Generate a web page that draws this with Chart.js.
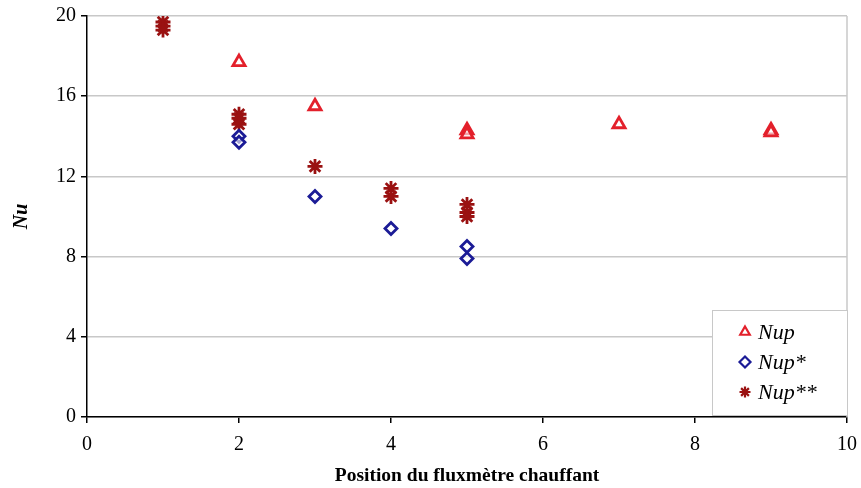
<!DOCTYPE html>
<html>
<head>
<meta charset="utf-8">
<script src="https://cdn.jsdelivr.net/npm/chart.js@4.4.0/dist/chart.umd.min.js"></script>
<style>
html,body{margin:0;padding:0;background:#fff;}
#wrap{width:861px;height:488px;}
</style>
</head>
<body>
<div id="wrap"><canvas id="c" width="861" height="488"></canvas></div>
<script>
const nupX = [2, 3, 5, 5, 7, 9, 9];
const nupY = [17.7, 15.5, 14.3, 14.1, 14.6, 14.3, 14.2];
const nupStarX = [2, 2, 3, 4, 5, 5];
const nupStarY = [14.0, 13.7, 11.0, 9.4, 8.5, 7.9];
const nupStar2X = [1, 1, 1, 2, 2, 2, 3, 4, 4, 5, 5, 5];
const nupStar2Y = [19.7, 19.5, 19.3, 15.1, 14.9, 14.6, 12.5, 11.4, 11.0, 10.6, 10.2, 10.0];
const xTicks = [0, 2, 4, 6, 8, 10];
const yTicks = [0, 4, 8, 12, 16, 20];
const seriesNames = ['Nup', 'Nup*', 'Nup**'];

const toPts = (xs, ys) => xs.map((x, i) => ({x: x, y: ys[i]}));
const serif = "'Liberation Serif', 'DejaVu Serif', serif";

const styles = [
  {pointStyle: 'triangle', borderColor: '#e3202b', backgroundColor: 'rgba(255,255,255,0.6)', radius: 7, bw: 2.8},
  {pointStyle: 'rectRot', borderColor: '#1b1b96', backgroundColor: 'rgba(255,255,255,0.6)', radius: 6, bw: 2.8},
  {pointStyle: 'star', borderColor: '#9a1111', backgroundColor: '#9a1111', radius: 7.5, bw: 2.8}
];

const legendPlugin = {
  id: 'boxLegend',
  afterDraw(chart) {
    const ctx = chart.ctx;
    const ca = chart.chartArea;
    const x0 = 712, y0 = 310, w = ca.right - x0, h = ca.bottom - y0 - 2;
    ctx.save();
    ctx.fillStyle = '#fff';
    ctx.fillRect(x0, y0, w, h);
    ctx.strokeStyle = '#c8c8c8';
    ctx.lineWidth = 1;
    ctx.strokeRect(x0 + 0.5, y0 + 0.5, w, h);
    ctx.font = "italic 22px " + serif;
    ctx.textBaseline = 'middle';
    seriesNames.forEach((n, i) => {
      const cy = y0 + 22 + i * 30;
      const s = styles[i];
      ctx.strokeStyle = s.borderColor;
      ctx.fillStyle = s.backgroundColor;
      ctx.lineWidth = 2.2;
      Chart.helpers.drawPoint(ctx, {pointStyle: s.pointStyle, radius: 5.5, borderWidth: 2.2}, 745, cy);
      ctx.fillStyle = '#000';
      ctx.fillText(n, 758, cy + 1);
    });
    ctx.restore();
  },
  beforeDatasetsDraw(chart) {
    const ctx = chart.ctx;
    const ca = chart.chartArea;
    ctx.save();
    ctx.strokeStyle = '#c8c8c8';
    ctx.lineWidth = 1.5;
    ctx.beginPath();
    ctx.moveTo(ca.right, ca.top);
    ctx.lineTo(ca.right, ca.bottom);
    ctx.stroke();
    ctx.restore();
  }
};

const datasets = [
  toPts(nupX, nupY), toPts(nupStarX, nupStarY), toPts(nupStar2X, nupStar2Y)
].map((d, i) => ({
  label: seriesNames[i],
  data: d,
  pointStyle: styles[i].pointStyle,
  borderColor: styles[i].borderColor,
  backgroundColor: styles[i].backgroundColor,
  pointRadius: styles[i].radius,
  pointBorderWidth: styles[i].bw,
  showLine: false
}));

new Chart(document.getElementById('c'), {
  type: 'scatter',
  data: {datasets},
  options: {
    responsive: false,
    animation: false,
    devicePixelRatio: 1,
    layout: {padding: {left: 0, right: 14, top: 16, bottom: 0}},
    plugins: {legend: {display: false}, tooltip: {enabled: false}},
    scales: {
      x: {
        type: 'linear', min: 0, max: 10,
        afterBuildTicks: (s) => { s.ticks = xTicks.map(v => ({value: v})); },
        afterFit: (s) => { s.height = 71; s.paddingRight = 0; s.paddingLeft = 0; },
        grid: {drawOnChartArea: false, tickLength: 6, tickColor: '#000', color: '#000', lineWidth: 1.5},
        border: {color: '#000', width: 1.5},
        ticks: {color: '#000', font: {family: serif, size: 20}, padding: 10, maxRotation: 0},
        title: {display: true, text: 'Position du fluxmètre chauffant', color: '#000',
                font: {family: serif, size: 19.5, weight: 'bold'}, padding: {top: 2, bottom: 0}}
      },
      y: {
        type: 'linear', min: 0, max: 20,
        afterBuildTicks: (s) => { s.ticks = yTicks.map(v => ({value: v})); },
        afterFit: (s) => { s.width = 87; s.paddingTop = 0; s.paddingBottom = 0; },
        grid: {color: '#c8c8c8', lineWidth: 1.5, tickLength: 6, tickColor: '#000'},
        border: {color: '#000', width: 1.5},
        ticks: {color: '#000', font: {family: serif, size: 20}, padding: 5},
        title: {display: true, text: 'Nu', color: '#000',
                font: {family: serif, size: 20, weight: 'bold', style: 'italic'}, padding: {top: 10, bottom: 0}}
      }
    }
  },
  plugins: [legendPlugin]
});
</script>
</body>
</html>
